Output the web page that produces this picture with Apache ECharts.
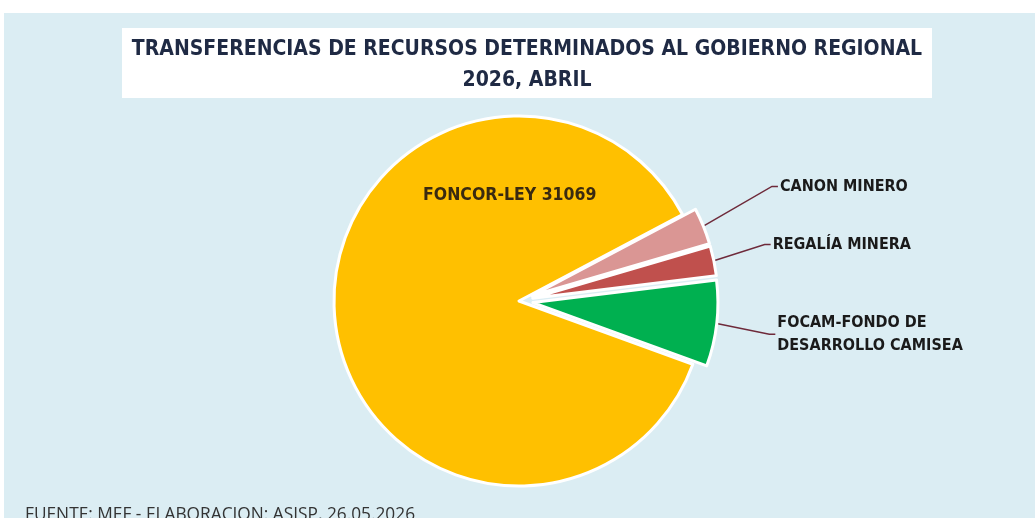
<!DOCTYPE html>
<html><head><meta charset="utf-8">
<script src="https://cdn.jsdelivr.net/npm/echarts@6/dist/echarts.min.js"></script>
<style>html,body{margin:0;padding:0;background:#fff}#c{width:1035px;height:518px}</style>
</head><body><div id="c"></div>
<script>
const categories = ['FONCOR-LEY 31069', 'CANON MINERO', 'REGALÍA MINERA', 'FOCAM-FONDO DE\nDESARROLLO CAMISEA'];
const values = [86.7, 3.2, 2.6, 7.5];
const colors = ['#FFC000', '#DA9694', '#C0504D', '#00B050'];
const exploded = [false, true, true, true];
const FONT = '"Liberation Sans Narrow", "DejaVu Sans Condensed", "Noto Sans", sans-serif';
const labelShift = [[0, 0], [10, -17], [-11, -4], [-10, 4]];

const data = categories.map((c, i) => ({
  name: c, value: values[i], selected: exploded[i],
  itemStyle: { color: colors[i] },
  label: i === 0 ? { position: 'inside', offset: [86, -112], fontSize: 17.5, color: '#3A2A10' } : {}
}));

const chart = echarts.init(document.getElementById('c'));
chart.setOption({
  backgroundColor: '#ffffff',
  animation: false,
  graphic: [
    { type: 'rect', shape: { x: 4, y: 13, width: 1031, height: 505 }, style: { fill: '#DBEDF3' }, z: -10 },
    { type: 'rect', shape: { x: 122, y: 28, width: 810, height: 70 }, style: { fill: '#ffffff' }, z: -5 },
    { type: 'text', x: 527, y: 50, style: { text: 'TRANSFERENCIAS DE RECURSOS DETERMINADOS AL GOBIERNO REGIONAL', font: 'bold 21px ' + FONT, fill: '#1F2A44', align: 'center', verticalAlign: 'middle' } },
    { type: 'text', x: 527, y: 81, style: { text: '2026, ABRIL', font: 'bold 21px ' + FONT, fill: '#1F2A44', align: 'center', verticalAlign: 'middle' } },
    { type: 'text', x: 25, y: 507, style: { text: 'FUENTE: MEF - ELABORACION: ASISP, 26.05.2026', font: '17.3px "Open Sans", sans-serif', fill: '#333333' } }
  ],
  series: [{
    type: 'pie',
    center: [519, 301],
    radius: 185,
    startAngle: -20,
    clockwise: true,
    selectedMode: 'multiple',
    selectedOffset: 14,
    data: data,
    itemStyle: { borderColor: '#ffffff', borderWidth: 3 },
    label: {
      show: true, position: 'outside', formatter: '{b}', color: '#1a1a1a',
      fontFamily: FONT, fontWeight: 'bold', fontSize: 16, lineHeight: 23, align: 'left'
    },
    labelLine: { show: true, length: 60, length2: 6, lineStyle: { color: '#6E2A3A', width: 1.5 } },
    labelLayout: function (p) {
      const s = labelShift[p.dataIndex];
      const out = { dx: s[0], dy: s[1] };
      const pts = p.labelLinePoints;
      if (pts && pts.length) {
        const r = p.labelRect;
        const ex = r.x + s[0] - 2;
        const ey = r.y + s[1] + r.height / 2;
        out.labelLinePoints = [pts[0], [ex - 6, ey], [ex, ey]];
      }
      return out;
    },
    emphasis: { disabled: true }
  }]
});
</script></body></html>
